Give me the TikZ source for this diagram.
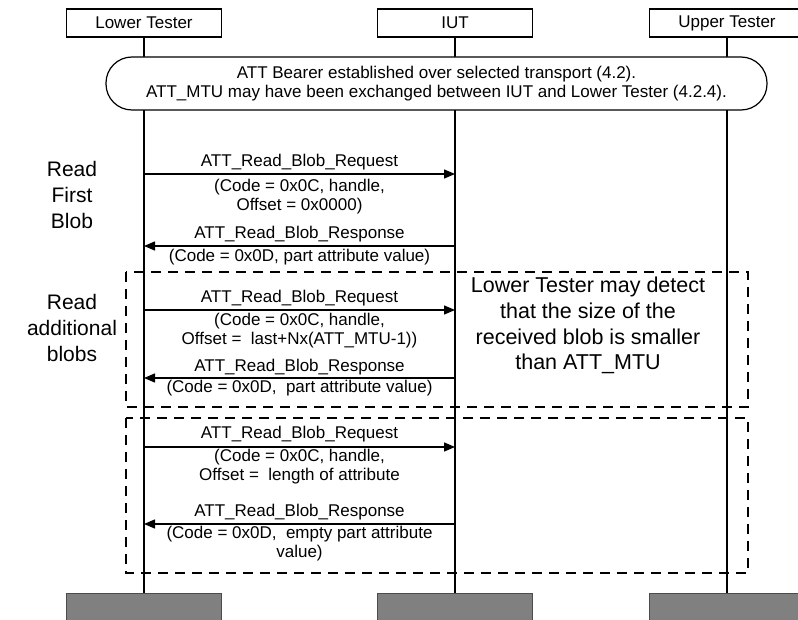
\documentclass[tikz,border=0pt]{standalone}
\usepackage{fontspec}
\setmainfont{Liberation Sans}
\usetikzlibrary{arrows.meta, positioning, calc}
\tikzset{
    actor/.style={
        rectangle, draw, line width=1.2pt,
        minimum width=155pt, minimum height=28pt,
        font=\fontsize{17}{19}\selectfont
    },
    stub/.style={rectangle, draw=black!70, fill=gray, minimum width=155pt, minimum height=30pt, anchor=north},
    life/.style={line width=2pt},
    banner/.style={
        rectangle, draw, fill=white, line width=1.2pt,
        rounded corners=26pt, minimum width=661pt, minimum height=53pt,
        align=center, font=\fontsize{17}{19}\selectfont
    },
    frame/.style={line width=1.3pt, dash pattern=on 10pt off 7pt},
    msg/.style={line width=1.3pt, -{Triangle[length=11pt,width=9pt]}},
    % Text Styles
    lbl/.style={align=center, inner sep=0pt, font=\fontsize{17}{19}\selectfont},
    phase/.style={align=center, inner sep=0pt, font=\fontsize{21}{26}\selectfont},
    note/.style={align=center, inner sep=0pt, font=\fontsize{21.5}{25.7}\selectfont}
}

\begin{document}
\begin{tikzpicture}[x=1pt, y=-1pt]
        \useasboundingbox (0,0) rectangle (798,620);

        % Actors
        \node (lt) [actor] at (144,23) {Lower Tester};
        \node (iut) [actor] at (455,23) {IUT};
        \node (ut) [actor] at (727,23) {Upper Tester};
        \node (ltEnd) [stub] at (144,593) {};
        \node (iutEnd) [stub] at (455,593) {};
        \node (utEnd) [stub] at (727,593) {};

        \draw [life] (lt) -- (ltEnd);
        \draw [life] (iut) -- (iutEnd);
        \draw [life] (ut) -- (utEnd);

        \node (setup) [banner] at (436.5,83.5) {ATT Bearer established over selected transport (4.2).\\ATT\_MTU may have been exchanged between IUT and Lower Tester (4.2.4).};

        % Dashed frames
        \draw [frame] (126,272) rectangle (748,407);
        \draw [frame] (126,418) rectangle (748,573);

        % Phase names
        \node (first) [phase] at (72,195) {Read\\First\\Blob};
        \node (more) [phase] at (72,328) {Read\\additional\\blobs};
        \node (mtuNote) [note] at (588,325.5) {Lower Tester may detect\\that the size of the\\received blob is smaller\\than ATT\_MTU};

        % Message end points
        \coordinate (lt1) at (144,174);  \coordinate (iut1) at (455,174);
        \coordinate (lt2) at (144,246);  \coordinate (iut2) at (455,246);
        \coordinate (lt3) at (144,310);  \coordinate (iut3) at (455,310);
        \coordinate (lt4) at (144,378);  \coordinate (iut4) at (455,378);
        \coordinate (lt5) at (144,447);  \coordinate (iut5) at (455,447);
        \coordinate (lt6) at (144,524);  \coordinate (iut6) at (455,524);

        % Read first blob
        \node (req1) [lbl] at (299.5,162) {ATT\_Read\_Blob\_Request};
        \node (req1p) [lbl] at (299.5,196.5) {(Code = 0x0C, handle,\\Offset = 0x0000)};
        \draw [msg] (lt1) -- (iut1);
        \node (rsp1) [lbl] at (299.5,234) {ATT\_Read\_Blob\_Response};
        \node (rsp1p) [lbl] at (299.5,257.5) {(Code = 0x0D, part attribute value)};
        \draw [msg] (iut2) -- (lt2);

        % Read additional blobs
        \node (req2) [lbl] at (299.5,298) {ATT\_Read\_Blob\_Request};
        \node (req2p) [lbl] at (299.5,331) {(Code = 0x0C, handle,\\Offset =\ \ last+Nx(ATT\_MTU-1))};
        \draw [msg] (lt3) -- (iut3);
        \node (rsp2) [lbl] at (299.5,367) {ATT\_Read\_Blob\_Response};
        \node (rsp2p) [lbl] at (299.5,388.5) {(Code = 0x0D,\ \ part attribute value)};
        \draw [msg] (iut4) -- (lt4);

        % Read last blob
        \node (req3) [lbl] at (299.5,434) {ATT\_Read\_Blob\_Request};
        \node (req3p) [lbl] at (299.5,467) {(Code = 0x0C, handle,\\Offset =\ \ length of attribute};
        \draw [msg] (lt5) -- (iut5);
        \node (rsp3) [lbl] at (299.5,512) {ATT\_Read\_Blob\_Response};
        \node (rsp3p) [lbl] at (299.5,543.5) {(Code = 0x0D,\ \ empty part attribute\\value)};
        \draw [msg] (iut6) -- (lt6);
    \end{tikzpicture}
\end{document}
